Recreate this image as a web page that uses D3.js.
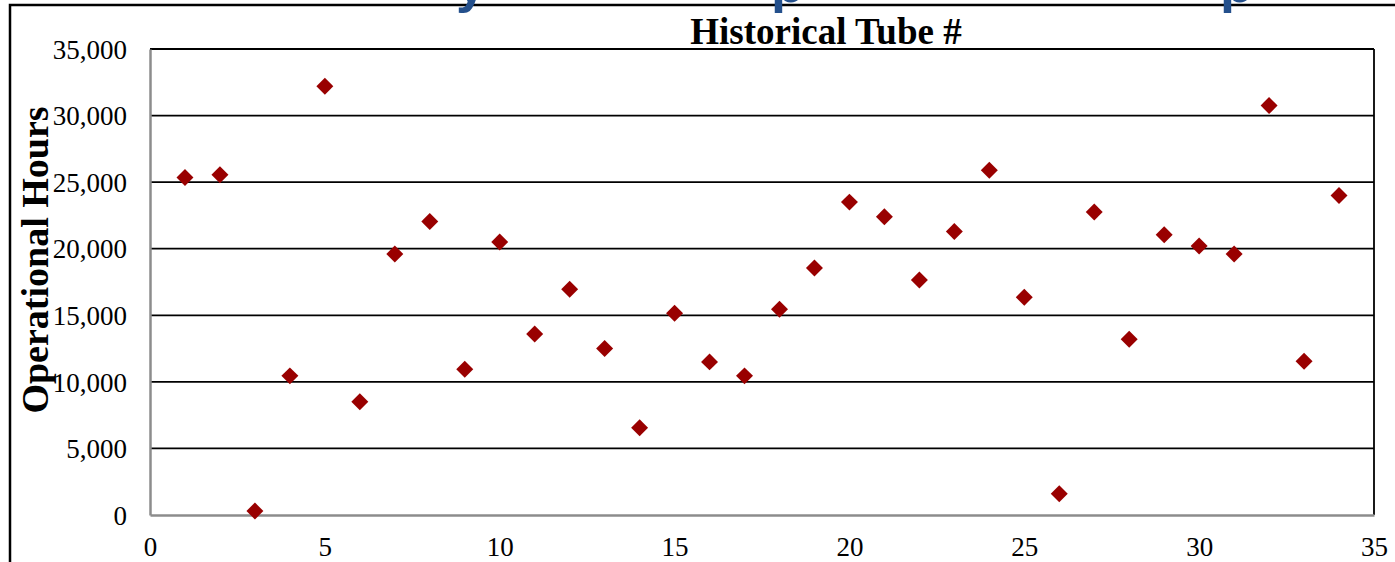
<!DOCTYPE html>
<html>
<head>
<meta charset="utf-8">
<script src="https://d3js.org/d3.v7.min.js"></script>
<style>
  body { margin: 0; background: #fff; }
  svg { display: block; }
</style>
</head>
<body>
<div id="chart"></div>
<script>
// tube number (x) and operational hours (y)
const tubes = [1, 2, 3, 4, 5, 6, 7, 8, 9, 10, 11, 12, 13, 14, 15, 16, 17,
               18, 19, 20, 21, 22, 23, 24, 25, 26, 27, 28, 29, 30, 31, 32, 33, 34];
const hours = [25350, 25550, 300, 10450, 32200, 8500, 19600, 22050, 10950, 20500,
               13600, 16950, 12500, 6550, 15150, 11500, 10450, 15450, 18550, 23500,
               22400, 17650, 21300, 25900, 16350, 1600, 22750, 13200, 21050, 20200,
               19600, 30750, 11550, 24000];
const xTicks = [0, 5, 10, 15, 20, 25, 30, 35];
const yTicks = [0, 5000, 10000, 15000, 20000, 25000, 30000, 35000];

const width = 1395, height = 562;
const margin = { top: 49, right: 21, bottom: 47, left: 150 };

const svg = d3.select("#chart").append("svg")
    .attr("width", width)
    .attr("height", height);

// outer frame (only top and left edges visible)
svg.append("path")
    .attr("d", `M10,${height} L10,5 L${width},5`)
    .attr("fill", "none")
    .attr("stroke", "#000")
    .attr("stroke-width", 2.5);

// clipped slide title above the chart, only descenders show
const blue = svg.append("g")
    .attr("fill", "#24508c")
    .attr("font-family", "'Liberation Sans', Arial, sans-serif")
    .attr("font-weight", "bold")
    .attr("font-size", 54);
blue.append("text").attr("x", 456).attr("y", 2).text("y");
blue.append("text").attr("x", 771).attr("y", 2).text("p");
blue.append("text").attr("x", 1220).attr("y", 2).text("p");

const x = d3.scaleLinear()
    .domain([0, 35])
    .range([margin.left, width - margin.right]);

const y = d3.scaleLinear()
    .domain([0, 35000])
    .range([height - margin.bottom, margin.top]);

// horizontal gridlines
svg.append("g")
    .selectAll("line")
    .data(yTicks.filter(d => d > 0))
    .join("line")
    .attr("x1", x(0))
    .attr("x2", x(35))
    .attr("y1", d => y(d))
    .attr("y2", d => y(d))
    .attr("stroke", "#000")
    .attr("stroke-width", 1.8);

// right border of plot area
svg.append("line")
    .attr("x1", x(35)).attr("x2", x(35))
    .attr("y1", y(35000)).attr("y2", y(0))
    .attr("stroke", "#000")
    .attr("stroke-width", 1.8);

// y axis
const yAxis = svg.append("g")
    .attr("transform", `translate(${x(0)},0)`)
    .call(d3.axisLeft(y).tickValues(yTicks).tickFormat(d3.format(",")).tickSize(0).tickPadding(23));

// x axis
const xAxis = svg.append("g")
    .attr("transform", `translate(0,${y(0)})`)
    .call(d3.axisBottom(x).tickValues(xTicks).tickFormat(d3.format("d")).tickSize(0).tickPadding(22));

[yAxis, xAxis].forEach(a => {
  a.select(".domain").attr("stroke", "#8c8c8c").attr("stroke-width", 2.5);
  a.selectAll("text")
      .attr("font-family", "'Liberation Serif', 'Times New Roman', serif")
      .attr("font-size", 27)
      .attr("fill", "#000");
});
yAxis.selectAll("text").attr("dy", "0.34em");
xAxis.selectAll("text").attr("dy", "0.71em");

// data points as diamonds
const diamond = d3.symbol().type(d3.symbolSquare).size(144);
svg.append("g")
    .selectAll("path")
    .data(tubes.map((t, i) => ({ t, h: hours[i] })))
    .join("path")
    .attr("d", diamond)
    .attr("transform", d => `translate(${x(d.t)},${y(d.h)}) rotate(45)`)
    .attr("fill", "#990000");

// axis titles
svg.append("text")
    .attr("x", 826)
    .attr("y", 44)
    .attr("text-anchor", "middle")
    .attr("font-family", "'Liberation Serif', 'Times New Roman', serif")
    .attr("font-weight", "bold")
    .attr("font-size", 37)
    .text("Historical Tube #");

svg.append("text")
    .attr("transform", "translate(48,260) rotate(-90)")
    .attr("text-anchor", "middle")
    .attr("font-family", "'Liberation Serif', 'Times New Roman', serif")
    .attr("font-weight", "bold")
    .attr("font-size", 38)
    .text("Operational Hours");
</script>
</body>
</html>
